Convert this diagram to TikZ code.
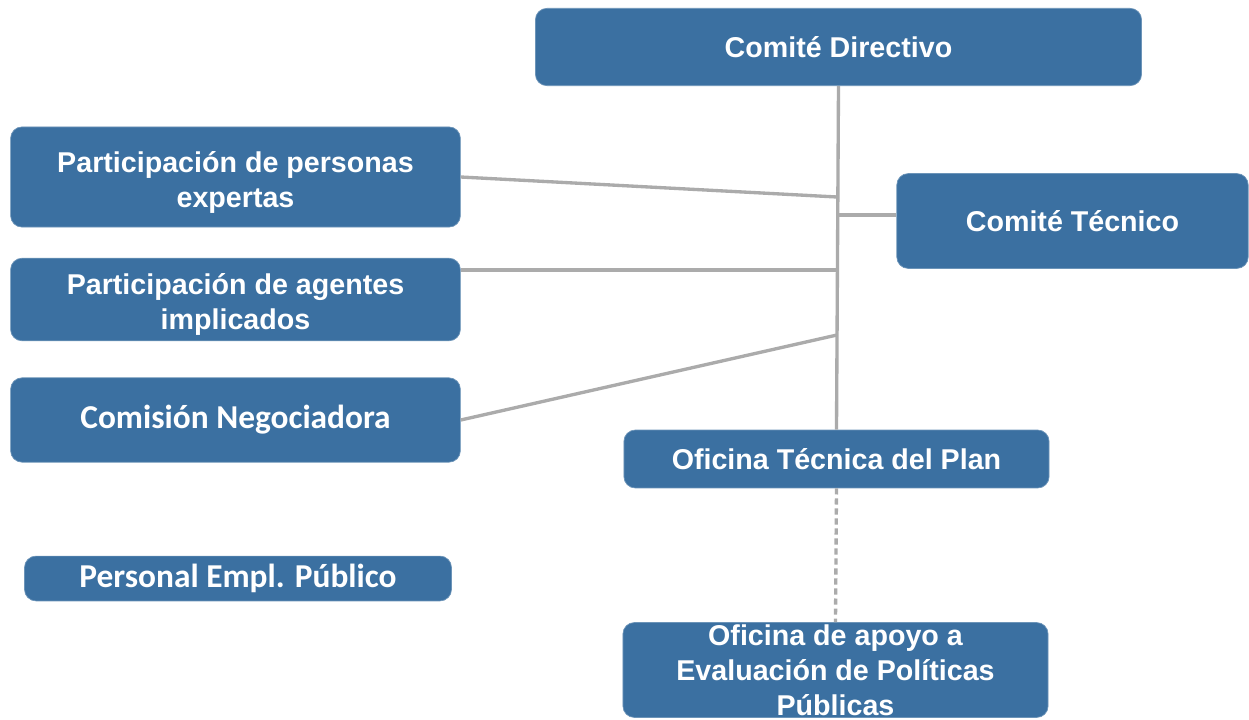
\documentclass[tikz,border=0pt]{standalone}
\usepackage{fontspec}
\setmainfont{Liberation Sans}
\newfontfamily\calfont{Carlito}
\usepackage{xcolor}
\usepackage{tikz}
\usetikzlibrary{positioning, calc}

\definecolor{boxblue}{RGB}{59,112,161}
\definecolor{linegray}{RGB}{171,171,171}

\begin{document}
\begin{tikzpicture}[x=0.02cm, y=-0.02cm,
    unit/.style={rectangle, rounded corners=6.5pt, fill=boxblue, draw=boxblue!75!white, line width=0.4pt,
                 text=white, font=\bfseries\fontsize{16.3}{19.8}\selectfont, align=center, inner sep=0pt},
    link/.style={draw=linegray, line width=1.9pt}]

      \useasboundingbox (0,0) rectangle (1249,720);

      \node[unit, minimum width=345pt, minimum height=44pt] (dir) at (838.5, 47) {Comité Directivo};
      \node[unit, minimum width=256pt, minimum height=57pt] (exp) at (235.5, 177) {\rule{0pt}{18pt}Participación de personas\\expertas};
      \node[unit, minimum width=200pt, minimum height=54pt] (tec) at (1072.5, 221) {Comité Técnico};
      \node[unit, minimum width=256pt, minimum height=47pt] (agt) at (235.5, 299.5) {\rule{0pt}{18pt}Participación de agentes\\implicados};
      \node[unit, minimum width=256pt, minimum height=48pt, font=\calfont\bfseries\fontsize{19}{22}\selectfont] (neg) at (235.5, 420) {Comisión Negociadora};
      \node[unit, minimum width=242pt, minimum height=33pt] (ofi) at (836.5, 459) {Oficina Técnica del Plan};
      \node[unit, minimum width=243pt, minimum height=25.5pt, font=\calfont\bfseries\fontsize{19}{22}\selectfont] (pub) at (238, 578.5) {Personal Empl. Público};
      \node[unit, minimum width=242pt, minimum height=54pt] (apo) at (835.5, 670) {Oficina de apoyo a\\Evaluación de Políticas\\Públicas};

      % junctions on the trunk
      \coordinate (j1) at (837, 197);
      \coordinate (j2) at (839, 215);
      \coordinate (j3) at (837, 270);
      \coordinate (j4) at (837, 335);

      \draw[link] (dir.south) -- (ofi.north);
      \draw[link] (exp.east) -- (j1);
      \draw[link] (j2) -- (j2 -| tec.west);
      \draw[link] (agt.east |- j3) -- (j3);
      \draw[link] (neg.east) -- (j4);
      \draw[link, dash pattern=on 3.5pt off 2.2pt] (ofi.south) -- (apo.north);
    \end{tikzpicture}
\end{document}
